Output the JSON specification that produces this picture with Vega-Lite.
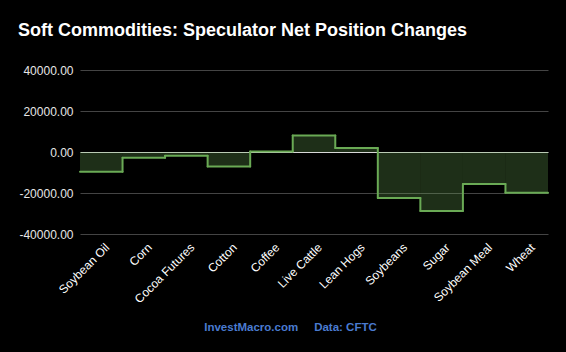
{
  "$schema": "https://vega.github.io/schema/vega-lite/v6.json",
  "autosize": "none",
  "width": 468,
  "height": 164,
  "padding": {"left": 80, "top": 70, "right": 18, "bottom": 118},
  "background": "#000000",
  "title": {
    "text": "Soft Commodities: Speculator Net Position Changes",
    "anchor": "start",
    "frame": "group",
    "dx": -62,
    "offset": 10,
    "baseline": "alphabetic",
    "font": "Liberation Sans",
    "fontSize": 18,
    "fontWeight": "bold",
    "color": "#ffffff"
  },
  "config": {
    "view": {"stroke": null},
    "axis": {"labelFont": "Liberation Sans", "titleFont": "Liberation Sans"}
  },
  "data": {
    "values": [
      {"commodity": "Soybean Oil", "change": -9600},
      {"commodity": "Corn", "change": -2800},
      {"commodity": "Cocoa Futures", "change": -1800},
      {"commodity": "Cotton", "change": -7100},
      {"commodity": "Coffee", "change": 200},
      {"commodity": "Live Cattle", "change": 8000},
      {"commodity": "Lean Hogs", "change": 1950},
      {"commodity": "Soybeans", "change": -22400},
      {"commodity": "Sugar", "change": -28800},
      {"commodity": "Soybean Meal", "change": -15600},
      {"commodity": "Wheat", "change": -19900}
    ]
  },
  "layer": [
    {
      "mark": {"type": "bar", "fill": "#6aaa55", "fillOpacity": 0.28, "stroke": null},
      "encoding": {
        "x": {
          "field": "commodity",
          "type": "nominal",
          "sort": null,
          "scale": {"paddingInner": 0, "paddingOuter": 0},
          "axis": {
            "labelAngle": -45,
            "labelAlign": "right",
            "labelBaseline": "middle",
            "labelColor": "#ffffff",
            "labelFontSize": 12,
            "labelPadding": 11,
            "labelOffset": 6,
            "ticks": false,
            "domain": false,
            "grid": false,
            "title": "InvestMacro.com\u00a0\u00a0\u00a0\u00a0\u00a0Data: CFTC",
            "titleColor": "#4a7bd0",
            "titleFontSize": 11.5,
            "titleFontWeight": "bold",
            "titleX": 210,
            "titleY": 96,
            "titleBaseline": "alphabetic"
          }
        },
        "y": {
          "field": "change",
          "type": "quantitative",
          "scale": {"domain": [-40000, 40000], "nice": false, "zero": true},
          "axis": {
            "values": [-40000, -20000, 0, 20000, 40000],
            "labelExpr": "replace(format(datum.value, '.2f'), '\u2212', '-')",
            "labelColor": "#e6e6e6",
            "labelFontSize": 12,
            "labelPadding": 7,
            "ticks": false,
            "domain": false,
            "gridColor": {"condition": {"test": "datum.value === 0", "value": "#d8d8d8"}, "value": "#444444"},
            "gridWidth": 1,
            "title": null
          }
        }
      }
    },
    {
      "mark": {"type": "rule", "stroke": "#6aaa55", "strokeWidth": 2, "strokeCap": "round"},
      "encoding": {
        "x": {"field": "commodity", "type": "nominal", "sort": null, "bandPosition": 0},
        "x2": {"field": "commodity", "bandPosition": 1},
        "y": {"field": "change", "type": "quantitative"}
      }
    },
    {
      "transform": [
        {"window": [{"op": "lag", "field": "change", "as": "previous"}]},
        {"filter": "datum.previous != null"}
      ],
      "mark": {"type": "rule", "stroke": "#6aaa55", "strokeWidth": 2, "strokeCap": "round"},
      "encoding": {
        "x": {"field": "commodity", "type": "nominal", "sort": null, "bandPosition": 0},
        "y": {"field": "previous", "type": "quantitative"},
        "y2": {"field": "change"}
      }
    }
  ]
}
